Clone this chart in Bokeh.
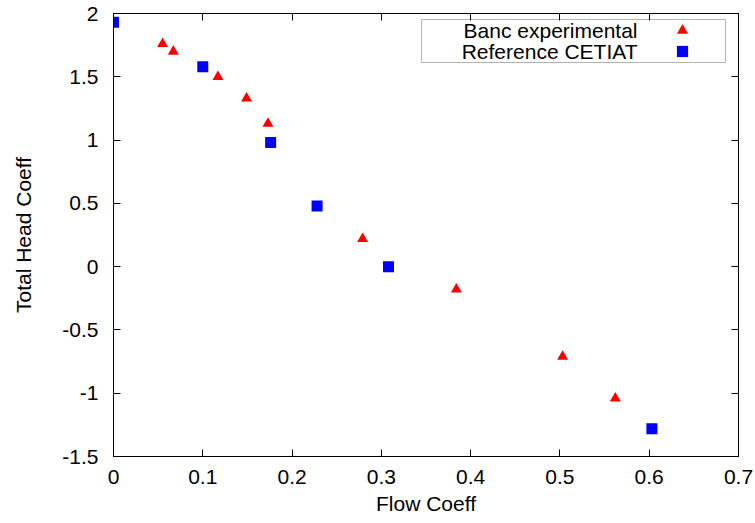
from bokeh.plotting import figure
from bokeh.models import (FixedTicker, LinearAxis, Range1d, Legend, LegendItem, Label,
                          BoxAnnotation, CustomLabelingPolicy)
from bokeh.embed import file_html
from bokeh.resources import INLINE

# ---- data ----
banc_x = [0.055, 0.067, 0.117, 0.149, 0.173, 0.279, 0.384, 0.503, 0.562]
banc_y = [1.76, 1.70, 1.50, 1.33, 1.13, 0.22, -0.18, -0.71, -1.04]
cetiat_x = [0.0, 0.100, 0.176, 0.228, 0.308, 0.603]
cetiat_y = [1.93, 1.58, 0.98, 0.48, 0.0, -1.28]

x_ticks = [0, 0.1, 0.2, 0.3, 0.4, 0.5, 0.6, 0.7]
x_tick_labels = ["0", "0.1", "0.2", "0.3", "0.4", "0.5", "0.6", "0.7"]
y_ticks = [-1.5, -1, -0.5, 0, 0.5, 1, 1.5, 2]
y_tick_labels = ["-1.5", "-1", "-0.5", "0", "0.5", "1", "1.5", "2"]

series_names = ["Banc experimental", "Reference CETIAT"]

FONT = "Liberation Sans"
FS = "21px"

p = figure(width=755, height=523, output_backend="svg", toolbar_location=None,
           x_range=Range1d(0, 0.7), y_range=Range1d(-1.5, 2),
           min_border_left=113, min_border_right=17, min_border_top=13, min_border_bottom=67)
p.xgrid.visible = False
p.ygrid.visible = False
p.outline_line_color = "black"
p.background_fill_color = "white"
p.border_fill_color = "white"

xt = FixedTicker(ticks=x_ticks)
yt = FixedTicker(ticks=y_ticks)

def style_axis(ax, ticker, labels, ticks):
    ax.ticker = ticker
    ax.major_label_overrides = {t: l for t, l in zip(ticks, labels)}
    ax.minor_tick_line_color = None
    ax.major_tick_in = 7
    ax.major_tick_out = 0
    ax.axis_line_color = "black"
    ax.major_tick_line_color = "black"
    ax.major_label_text_font = FONT
    ax.major_label_text_font_size = FS
    ax.major_label_text_color = "black"
    ax.axis_label_text_font = FONT
    ax.axis_label_text_font_size = FS
    ax.axis_label_text_font_style = "normal"
    ax.axis_label_text_color = "black"

style_axis(p.xaxis[0], xt, x_tick_labels, x_ticks)
style_axis(p.yaxis[0], yt, y_tick_labels, y_ticks)
p.xaxis[0].axis_label = "Flow Coeff"
p.yaxis[0].axis_label = "Total Head Coeff"
p.xaxis[0].major_label_standoff = 13
p.xaxis[0].axis_label_standoff = 5
p.yaxis[0].major_label_standoff = 15
p.yaxis[0].axis_label_standoff = 24

# mirrored tick marks on top and right (gnuplot style), no labels
hide_all = CustomLabelingPolicy(code="""
for (const i of indices) indices.unset(i)
return indices
""")
for ticker, ticks, side in [(xt, x_ticks, "above"), (yt, y_ticks, "right")]:
    ax = LinearAxis(ticker=ticker, major_label_policy=hide_all, major_label_standoff=0,
                    major_label_overrides={t: "" for t in ticks},
                    major_tick_in=7, major_tick_out=0, minor_tick_line_color=None,
                    axis_line_color="black", major_tick_line_color="black")
    p.add_layout(ax, side)

r_banc = p.scatter(banc_x, banc_y, marker="triangle", size=11, color="red", line_width=0)
r_cet = p.scatter(cetiat_x, cetiat_y, marker="square", size=11, color="blue", line_width=0)

# legend frame and texts (gnuplot style: text, then marker)
box = BoxAnnotation(left=0.345, right=0.6854, top=1.9526, bottom=1.6129,
                    fill_alpha=0, line_color="black", line_width=1)
p.add_layout(box)
for name, yy in zip(series_names, [1.868, 1.700]):
    p.add_layout(Label(x=0.5869, y=yy, text=name, text_align="right", text_baseline="middle",
                       text_font=FONT, text_font_size=FS, text_color="black"))

for r, loc in [(r_banc, (555, 412)), (r_cet, (555, 391))]:
    lg = Legend(items=[LegendItem(label="", renderers=[r])],
                location=loc, glyph_width=28, glyph_height=28, label_height=28,
                label_width=0, label_standoff=0, spacing=0, padding=0, margin=0,
                border_line_alpha=0, background_fill_alpha=0, label_text_font_size="10px")
    p.add_layout(lg)

open("out.html", "w").write(file_html(p, INLINE))
